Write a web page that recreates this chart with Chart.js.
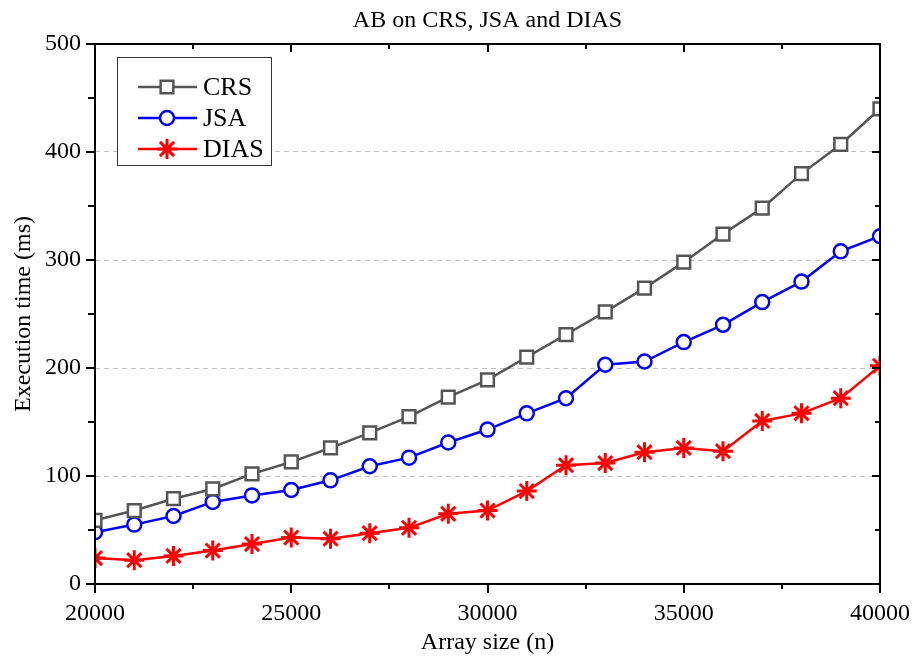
<!DOCTYPE html>
<html>
<head>
<meta charset="utf-8">
<script src="https://cdn.jsdelivr.net/npm/chart.js@4/dist/chart.umd.min.js"></script>
<style>
  html, body { margin: 0; padding: 0; background: #fff; }
  #wrap { width: 918px; height: 658px; }
</style>
</head>
<body>
<div id="wrap"><canvas id="myChart" width="918" height="658"></canvas></div>
<script>
const sizes = [20000, 21000, 22000, 23000, 24000, 25000, 26000, 27000, 28000, 29000, 30000,
               31000, 32000, 33000, 34000, 35000, 36000, 37000, 38000, 39000, 40000];
const crs  = [59, 68, 79, 88, 102, 113, 126, 140, 155, 173, 189, 210, 231, 252, 274, 298, 324, 348, 380, 407, 440];
const jsa  = [48, 55, 63, 76, 82, 87, 96, 109, 117, 131, 143, 158, 172, 203, 206, 224, 240, 261, 280, 308, 322];
const dias = [24, 22, 26, 31, 37, 43, 42, 47, 52, 65, 68, 86, 110, 112, 122, 126, 123, 151, 158, 172, 202];

const FONT = '"Liberation Serif", "Times New Roman", serif';

function toPoints(arr) {
    return arr.map((v, i) => ({ x: sizes[i], y: v }));
}

// frame + ticks (outward on left/bottom, inward on top/right)
const framePlugin = {
    id: 'frame',
    afterDraw(chart) {
        const { ctx, chartArea: a, scales } = chart;
        const xs = scales.x, ys = scales.y;
        ctx.save();
        ctx.strokeStyle = '#000';
        ctx.lineWidth = 2;
        ctx.beginPath();
        for (let v = 0; v <= 500; v += 50) {
            const y = Math.round(ys.getPixelForValue(v));
            const len = v % 100 === 0 ? 9 : 7;
            ctx.moveTo(a.left - len, y); ctx.lineTo(a.left, y);
            ctx.moveTo(a.right, y); ctx.lineTo(a.right - (v % 100 === 0 ? 8 : 5), y);
        }
        for (let v = 20000; v <= 40000; v += 2500) {
            const x = Math.round(xs.getPixelForValue(v));
            const major = v % 5000 === 0;
            ctx.moveTo(x, a.bottom); ctx.lineTo(x, a.bottom + (major ? 9 : 5));
            ctx.moveTo(x, a.top); ctx.lineTo(x, a.top + (major ? 8 : 5));
        }
        ctx.stroke();
        ctx.strokeRect(a.left, a.top, a.right - a.left, a.bottom - a.top);
        ctx.restore();
    }
};

// legend box with line + marker samples
const legendPlugin = {
    id: 'boxLegend',
    afterDraw(chart) {
        const ctx = chart.ctx;
        const bx = 117, by = 57, bw = 154, bh = 108;
        ctx.save();
        ctx.strokeStyle = '#333';
        ctx.lineWidth = 1;
        ctx.fillStyle = '#fff';
        ctx.fillRect(bx, by, bw, bh);
        ctx.strokeRect(bx + 0.5, by + 0.5, bw, bh);
        chart.data.datasets.forEach((ds, i) => {
            const y = 87 + i * 31;
            ctx.strokeStyle = ds.borderColor;
            ctx.lineWidth = ds.borderWidth;
            ctx.beginPath();
            ctx.moveTo(138, y); ctx.lineTo(197, y);
            ctx.stroke();
            ctx.fillStyle = ds.pointBackgroundColor;
            ctx.strokeStyle = ds.borderColor;
            ctx.lineWidth = ds.pointBorderWidth;
            Chart.helpers.drawPoint(ctx, {
                pointStyle: ds.pointStyle,
                radius: ds.pointRadius,
                rotation: 0,
                borderWidth: ds.pointBorderWidth
            }, 167, y);
            ctx.fillStyle = '#000';
            ctx.font = '26px ' + FONT;
            ctx.textBaseline = 'middle';
            ctx.textAlign = 'left';
            ctx.fillText(ds.label, 203, y + 1);
        });
        ctx.restore();
    }
};

const ctx = document.getElementById('myChart').getContext('2d');

new Chart(ctx, {
    type: 'line',
    data: {
        datasets: [
            {
                label: 'CRS',
                data: toPoints(crs),
                borderColor: '#555555',
                pointBackgroundColor: '#ffffff',
                pointBorderColor: '#555555',
                pointStyle: 'rect',
                pointRadius: 9,
                pointBorderWidth: 2.5,
                borderWidth: 2.5,
                tension: 0,
                clip: 0
            },
            {
                label: 'JSA',
                data: toPoints(jsa),
                borderColor: '#0000ff',
                pointBackgroundColor: '#ffffff',
                pointBorderColor: '#0000ff',
                pointStyle: 'circle',
                pointRadius: 7,
                pointBorderWidth: 2.5,
                borderWidth: 2.5,
                tension: 0,
                clip: 0
            },
            {
                label: 'DIAS',
                data: toPoints(dias),
                borderColor: '#ff0000',
                pointBackgroundColor: '#ff0000',
                pointBorderColor: '#ff0000',
                pointStyle: 'star',
                pointRadius: 10,
                pointBorderWidth: 3,
                borderWidth: 2.5,
                tension: 0,
                clip: 0
            }
        ]
    },
    options: {
        responsive: false,
        animation: false,
        layout: { padding: { left: 0, right: 38, top: 0, bottom: 0 } },
        scales: {
            x: {
                type: 'linear',
                min: 20000,
                max: 40000,
                afterFit(scale) {
                    scale.height = 74;
                    scale.paddingLeft = 0;
                    scale.paddingRight = 0;
                },
                ticks: {
                    stepSize: 5000,
                    padding: 15,
                    color: '#000',
                    font: { family: FONT, size: 24 },
                    callback: v => String(v)
                },
                grid: { display: false, drawTicks: false },
                border: { display: false },
                title: {
                    display: true,
                    text: 'Array size (n)',
                    color: '#000',
                    font: { family: FONT, size: 24 },
                    padding: { top: 0, bottom: 1 }
                }
            },
            y: {
                min: 0,
                max: 500,
                afterFit(scale) {
                    scale.width = 95;
                    scale.paddingTop = 0;
                    scale.paddingBottom = 0;
                },
                ticks: {
                    stepSize: 100,
                    padding: 14,
                    color: '#000',
                    font: { family: FONT, size: 24 }
                },
                grid: {
                    drawTicks: false,
                    color: c => (c.tick.value > 0 && c.tick.value < 500) ? '#c0c0c0' : 'rgba(0,0,0,0)',
                    lineWidth: 1
                },
                border: { display: false, dash: [5, 4] },
                title: {
                    display: true,
                    text: 'Execution time (ms)',
                    color: '#000',
                    font: { family: FONT, size: 24 },
                    padding: { top: 9, bottom: 0 }
                }
            }
        },
        plugins: {
            legend: { display: false },
            tooltip: { enabled: false },
            title: {
                display: true,
                text: 'AB on CRS, JSA and DIAS',
                fullSize: false,
                color: '#000',
                font: { family: FONT, size: 24, weight: 'normal' },
                padding: { top: 6, bottom: 9.2 }
            }
        }
    },
    plugins: [framePlugin, legendPlugin]
});
</script>
</body>
</html>
